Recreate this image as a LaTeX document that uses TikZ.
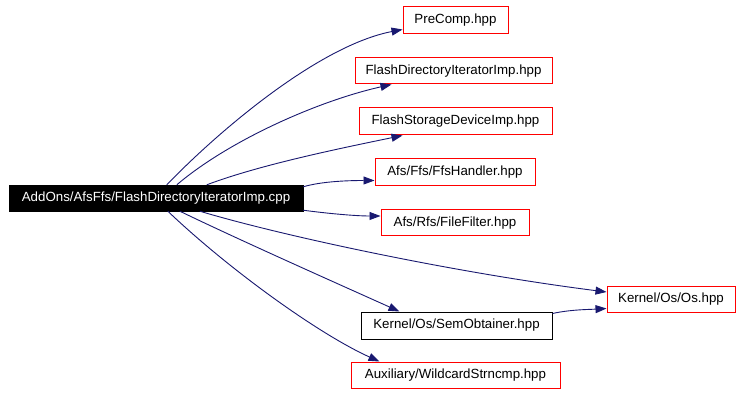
\documentclass[tikz,border=0pt]{standalone}
\usepackage{fontspec}
\setmainfont{Liberation Sans}
\usetikzlibrary{arrows.meta,calc}
\definecolor{edgeblue}{HTML}{191970}
\definecolor{boxred}{HTML}{FF0000}
\begin{document}
\begin{tikzpicture}[x=1pt,y=-1pt,
  file/.style={draw=boxred,line width=1pt,fill=white,inner sep=0pt,
    font=\fontsize{13.3}{15}\selectfont},
  mainfile/.style={draw=black,fill=black,text=white,inner sep=0pt,
    font=\fontsize{13.3}{15}\selectfont},
  plainfile/.style={file,draw=black},
  dep/.style={draw=edgeblue,line width=0.9pt,
    -{Triangle[length=11pt,width=8pt]}}]
\useasboundingbox[fill=white] (0,0) rectangle (741,395);

% the source file and the headers it includes
\node[mainfile,minimum width=294pt,minimum height=26pt] (main) at (156,198)
  {AddOns/AfsFfs/FlashDirectoryIteratorImp.cpp};
\node[file,minimum width=105pt,minimum height=27pt] (pre) at (455.5,20.5) {PreComp.hpp};
\node[file,minimum width=197pt,minimum height=26pt] (fdii) at (453.5,71) {FlashDirectoryIteratorImp.hpp};
\node[file,minimum width=193pt,minimum height=27pt] (fsdi) at (455.5,121.5) {FlashStorageDeviceImp.hpp};
\node[file,minimum width=160pt,minimum height=27pt] (ffs) at (455,172.5) {Afs/Ffs/FfsHandler.hpp};
\node[file,minimum width=148pt,minimum height=26pt] (ff) at (455,223) {Afs/Rfs/FileFilter.hpp};
\node[plainfile,minimum width=191pt,minimum height=27pt] (sem) at (456.5,325.5) {Kernel/Os/SemObtainer.hpp};
\node[file,minimum width=209pt,minimum height=26pt] (wc) at (455.5,375) {Auxiliary/WildcardStrncmp.hpp};
\node[file,minimum width=128pt,minimum height=26pt] (os) at (671,299) {Kernel/Os/Os.hpp};

% include edges
\draw[dep] ($(main.north west)+(158,0)$) .. controls +(53,-55) and +(-83,16) .. ($(pre.south west)+(0,-5)$);
\draw[dep] ($(main.north west)+(168,0)$) .. controls +(53,-45) and +(-72,16) .. ($(fdii.south west)+(37,0)$);
\draw[dep] ($(main.north west)+(198,0)$) .. controls +(53,-20) and +(-63,13) .. ($(fsdi.south west)+(44,0)$);
\draw[dep] ($(main.north east)+(0,2)$) .. controls +(17,-5) and +(-30,0) .. ($(ffs.south west)+(0,-6)$);
\draw[dep] ($(main.south east)+(0,-1)$) .. controls +(22,3) and +(-26,0) .. ($(ff.west)+(0,-7)$);
\draw[dep] ($(main.south west)+(191,0)$) .. controls +(80,24) and +(-157,-20) .. ($(os.west)+(0,-7)$);
\draw[dep] ($(main.south west)+(171,0)$) .. controls +(60,29) and +(-60,-27) .. ($(sem.north west)+(39,0)$);
\draw[dep] ($(main.south west)+(159,0)$) .. controls +(62,59) and +(-60,-27) .. ($(wc.north west)+(29,0)$);
\draw[dep] ($(sem.north east)+(0,2)$) .. controls +(18,-4) and +(-17,1) .. ($(os.south west)+(0,-4)$);
\end{tikzpicture}
\end{document}
